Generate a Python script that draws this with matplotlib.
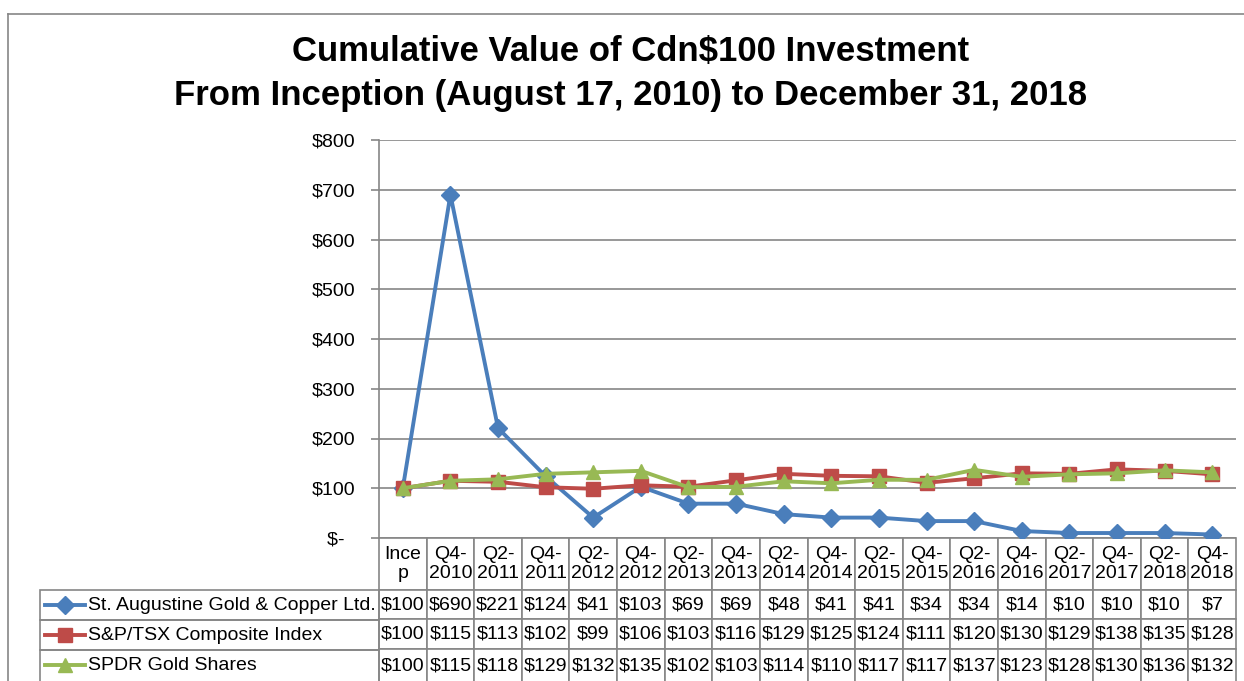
import matplotlib
matplotlib.use("Agg")
import matplotlib.pyplot as plt
from matplotlib.lines import Line2D
from matplotlib.patches import Rectangle

plt.rcParams['font.family'] = ['Liberation Sans', 'DejaVu Sans']
plt.rcParams['text.parse_math'] = False

categories = ["Ince\np", "Q4-\n2010", "Q2-\n2011", "Q4-\n2011", "Q2-\n2012", "Q4-\n2012",
              "Q2-\n2013", "Q4-\n2013", "Q2-\n2014", "Q4-\n2014", "Q2-\n2015", "Q4-\n2015",
              "Q2-\n2016", "Q4-\n2016", "Q2-\n2017", "Q4-\n2017", "Q2-\n2018", "Q4-\n2018"]
st_augustine = [100, 690, 221, 124, 41, 103, 69, 69, 48, 41, 41, 34, 34, 14, 10, 10, 10, 7]
sp_tsx = [100, 115, 113, 102, 99, 106, 103, 116, 129, 125, 124, 111, 120, 130, 129, 138, 135, 128]
spdr_gold = [100, 115, 118, 129, 132, 135, 102, 103, 114, 110, 117, 117, 137, 123, 128, 130, 136, 132]
series_names = ["St. Augustine Gold & Copper Ltd.", "S&P/TSX Composite Index", "SPDR Gold Shares"]
yticks = [0, 100, 200, 300, 400, 500, 600, 700, 800]

colors = ["#4A7EBB", "#BE4B48", "#98B954"]
markers = ["D", "s", "^"]
msizes = [9, 10, 10]
grey = "#868686"

W, H = 1244, 681
fig = plt.figure(figsize=(W / 100, H / 100), dpi=100)

def fx(px):
    return px / W

def fy(py):
    return 1 - py / H

ax_left, ax_right, ax_top, ax_bottom = 379, 1236, 140, 538
ax = fig.add_axes([fx(ax_left), fy(ax_bottom), fx(ax_right - ax_left), (ax_bottom - ax_top) / H])

x = list(range(len(categories)))
all_series = [st_augustine, sp_tsx, spdr_gold]
for s, c, m, ms in zip(all_series, colors, markers, msizes):
    ax.plot(x, s, color=c, lw=2.8, marker=m, ms=ms, mec=c, mfc=c, zorder=3)

ax.set_xlim(-0.5, len(categories) - 0.5)
ax.set_ylim(0, 800)
ax.set_yticks(yticks)
ax.set_yticklabels(["$-  " if v == 0 else f"${v}" for v in yticks], fontsize=14)
ax.set_xticks([])
ax.yaxis.grid(True, color=grey, lw=1.2)
ax.set_axisbelow(True)
for sp in ["top", "right", "bottom"]:
    ax.spines[sp].set_visible(False)
ax.spines["left"].set_color(grey)
ax.spines["left"].set_linewidth(1.2)
ax.tick_params(axis="y", length=6, width=1.2, color=grey, pad=11)

# Data table
cell_text = [[f"${v}" for v in s] for s in all_series]
tbl_bottom = 683
ax_w = ax_right - ax_left
ax_h = ax_bottom - ax_top
bbox = [0, -(tbl_bottom - ax_bottom - 1) / ax_h, 1, (tbl_bottom - ax_bottom - 1) / ax_h]
tbl = ax.table(cellText=cell_text, colLabels=categories, cellLoc="center", bbox=bbox)
tbl.auto_set_font_size(False)
tbl.set_fontsize(14)
row_h = {0: 52, 1: 30, 2: 30, 3: 33}
for (r, c), cell in tbl.get_celld().items():
    cell.set_edgecolor(grey)
    cell.set_linewidth(1.2)
    cell.set_width(ax_w / len(categories))
    cell.set_height(row_h[r])
    cell.get_text().set_linespacing(1.2)

# Row-label column with legend keys
label_left = 40
row_tops = [590, 620, 650]
for i, (name, c, m, ms) in enumerate(zip(series_names, colors, markers, msizes)):
    top = row_tops[i]
    bottom = top + row_h[i + 1]
    fig.add_artist(Rectangle((fx(label_left), fy(bottom)), fx(ax_left - label_left),
                             (bottom - top) / H, fill=False, edgecolor=grey, lw=1.2))
    yc = top + 15
    fig.add_artist(Line2D([fx(45), fx(85)], [fy(yc), fy(yc)], color=c, lw=2.8))
    fig.add_artist(Line2D([fx(65)], [fy(yc)], color=c, marker=m, ms=ms, mec=c, mfc=c))
    fig.text(fx(88), fy(yc), name, fontsize=14, ha="left", va="center")

# Title
fig.text(fx(631), fy(51), "Cumulative Value of Cdn$100 Investment", fontsize=25,
         fontweight="bold", ha="center", va="center")
fig.text(fx(631), fy(95), "From Inception (August 17, 2010) to December 31, 2018", fontsize=25,
         fontweight="bold", ha="center", va="center")

# Outer chart border
fig.add_artist(Line2D([fx(8), fx(8)], [fy(14), 0], color=grey, lw=1.2))
fig.add_artist(Line2D([fx(8), 1], [fy(14), fy(14)], color=grey, lw=1.2))

fig.savefig("out.png", dpi=100)
